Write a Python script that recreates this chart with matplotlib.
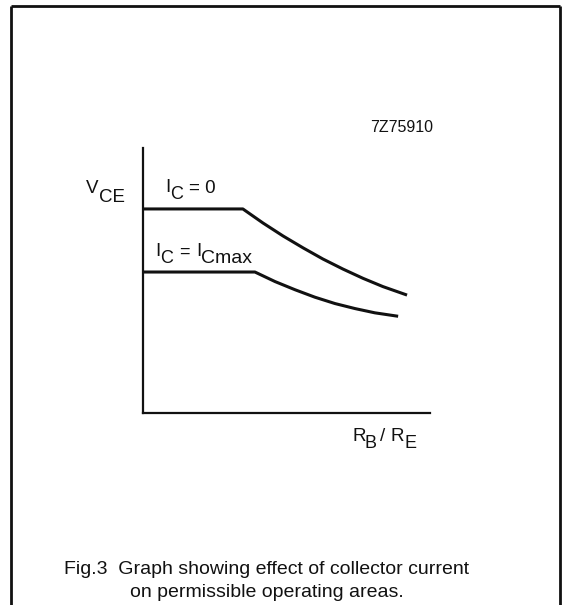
import matplotlib
matplotlib.use("Agg")
import matplotlib.pyplot as plt
from matplotlib.lines import Line2D

plt.rcParams['font.family'] = ['Liberation Sans', 'DejaVu Sans']

# Curve for I_C = 0 (arbitrary units of R_B/R_E and V_CE)
ic0_x = [0.0, 34.8, 41.8, 48.8, 55.8, 62.7, 69.7, 76.7, 83.6, 92.0]
ic0_y = [77.0, 77.0, 71.7, 66.8, 62.3, 58.1, 54.3, 50.8, 47.7, 44.5]

# Curve for I_C = I_Cmax
icmax_x = [0.0, 39.0, 46.0, 53.0, 59.9, 66.9, 73.9, 80.8, 88.9]
icmax_y = [53.2, 53.2, 49.6, 46.5, 43.7, 41.3, 39.4, 37.8, 36.5]

W, H = 564, 605
fig = plt.figure(figsize=(W / 100, H / 100), dpi=100)


def fx(px):
    return px / W


def fy(py):
    return 1 - py / H


def txt(x, y, s, size, **kw):
    fig.text(fx(x), fy(y), s, fontsize=size, ha='left', va='baseline', color='#111111', **kw)


# Outer frame (open at the bottom)
frame_kw = dict(color='#111111', lw=2.0, transform=fig.transFigure, solid_capstyle='butt')
fig.add_artist(Line2D([fx(11), fx(11)], [fy(605), fy(6)], **frame_kw))
fig.add_artist(Line2D([fx(11), fx(560)], [fy(6), fy(6)], **frame_kw))
fig.add_artist(Line2D([fx(560), fx(560)], [fy(6), fy(605)], **frame_kw))

# Plot area
ax_l, ax_r, ax_t, ax_b = 143, 430, 148, 413
ax = fig.add_axes([fx(ax_l), fy(ax_b), (ax_r - ax_l) / W, (ax_b - ax_t) / H])
ax.set_xlim(0, 100)
ax.set_ylim(0, 100)
for side in ('top', 'right'):
    ax.spines[side].set_visible(False)
for side in ('left', 'bottom'):
    ax.spines[side].set_linewidth(1.6)
    ax.spines[side].set_color('#111111')
ax.set_xticks([])
ax.set_yticks([])
ax.patch.set_alpha(0)

ax.plot(ic0_x, ic0_y, color='#111111', lw=2.2, solid_capstyle='butt', solid_joinstyle='round')
ax.plot(icmax_x, icmax_y, color='#111111', lw=2.2, solid_capstyle='butt', solid_joinstyle='round')

# Axis labels
txt(86, 193, 'V', 13.5)
txt(99, 202, 'CE', 13.5)
txt(352, 441, 'R', 13.5)
txt(364, 448, 'B', 13)
txt(380, 441, '/', 13.5)
txt(391, 441, 'R', 13.5)
txt(404, 448, 'E', 13)

# Curve labels
txt(165, 192, 'I', 13.5)
txt(170, 199, 'C', 13)
txt(189, 193, '= 0', 13.5)

txt(155, 256, 'I', 13.5)
txt(160, 263, 'C', 13)
txt(179, 257, '=', 13)
txt(196, 256, 'I', 13.5)
txt(201, 263, 'Cmax', 14)

# Figure code
txt(370, 132, '7Z75910', 11.5)

# Caption
fig.text(fx(267), fy(574), 'Fig.3  Graph showing effect of collector current',
         fontsize=14, ha='center', va='baseline', color='#111111')
fig.text(fx(267), fy(597), 'on permissible operating areas.',
         fontsize=14, ha='center', va='baseline', color='#111111')

fig.savefig('out.png', dpi=100, facecolor='white')
